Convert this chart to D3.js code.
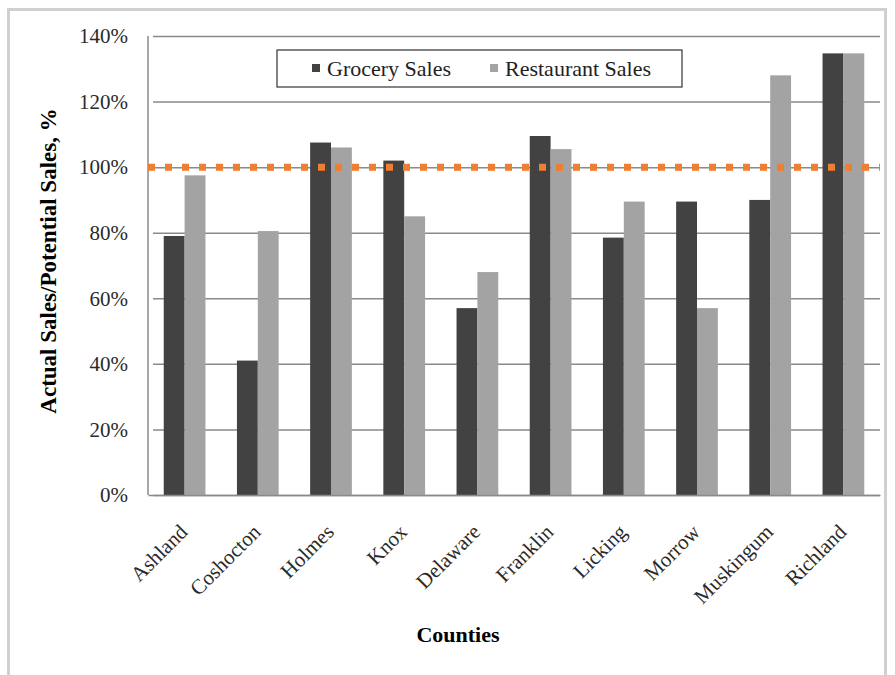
<!DOCTYPE html>
<html>
<head>
<meta charset="utf-8">
<script src="https://cdn.jsdelivr.net/npm/d3@7"></script>
<style>
  body { margin: 0; background: #fff; }
  svg text { font-family: "Liberation Serif", "Tinos", "DejaVu Serif", serif !important; }
</style>
</head>
<body>
<div class="chart"></div>
<script>
const counties = ["Ashland", "Coshocton", "Holmes", "Knox", "Delaware", "Franklin", "Licking", "Morrow", "Muskingum", "Richland"];
const grocery = [79, 41, 107.5, 102, 57, 109.5, 78.5, 89.5, 90, 134.7];
const restaurant = [97.5, 80.5, 106, 85, 68, 105.5, 89.5, 57, 128, 134.7];
const seriesNames = ["Grocery Sales", "Restaurant Sales"];
const yTicks = [0, 20, 40, 60, 80, 100, 120, 140];
const target = 100;

let dims = { width: 895, height: 675 };
let margin = { top: 36, right: 15, bottom: 180, left: 148 };

let svg = d3.select(".chart").append("svg")
  .attr("width", dims.width)
  .attr("height", dims.height);

// outer frame
svg.append("rect")
  .attr("x", 8.5).attr("y", 9.5)
  .attr("width", 877).attr("height", 680)
  .attr("fill", "none").attr("stroke", "#d0d0d0").attr("stroke-width", 3);

let x = d3.scaleBand().domain(counties)
  .range([margin.left, dims.width - margin.right])
  .paddingInner(0.43).paddingOuter(0.215);
let x1 = d3.scaleBand().domain(seriesNames).range([0, x.bandwidth()]);
let y = d3.scaleLinear().domain([0, 140]).range([dims.height - margin.bottom, margin.top]);
let color = d3.scaleOrdinal().domain(seriesNames).range(["#424242", "#a3a3a3"]);

// gridlines + y axis
let yAxis = svg.append("g")
  .attr("transform", `translate(${margin.left},0)`)
  .call(d3.axisLeft(y).tickValues(yTicks).tickFormat(d => d + "%")
    .tickSize(-(dims.width - margin.right - margin.left)).tickPadding(20));
yAxis.attr("font-family", null);
yAxis.select(".domain").remove();
yAxis.selectAll(".tick line").attr("stroke", "#8a8a8a").attr("stroke-width", 1.5).attr("x1", 5);
yAxis.selectAll(".tick text").style("font-size", "21px").attr("fill", "#2a2a2a");

svg.append("line")
  .attr("x1", margin.left).attr("x2", margin.left)
  .attr("y1", y(140)).attr("y2", y(0))
  .attr("stroke", "#8a8a8a").attr("stroke-width", 1.5);

// bars
let data = counties.map((c, i) => ({ county: c, values: [grocery[i], restaurant[i]] }));
let groups = svg.append("g").selectAll("g").data(data).join("g")
  .attr("transform", d => `translate(${x(d.county)},0)`);
groups.selectAll("rect")
  .data(d => d.values.map((v, j) => ({ key: seriesNames[j], v })))
  .join("rect")
  .attr("x", d => x1(d.key))
  .attr("width", x1.bandwidth())
  .attr("y", d => y(d.v))
  .attr("height", d => y(0) - y(d.v))
  .attr("fill", d => color(d.key));

// x axis
let xAxis = svg.append("g")
  .attr("transform", `translate(0,${y(0)})`)
  .call(d3.axisBottom(x).tickSize(0));
xAxis.attr("font-family", null);
xAxis.select(".domain").attr("stroke", "#8a8a8a").attr("stroke-width", 1.5);
xAxis.selectAll(".tick text")
  .style("font-size", "21px").attr("fill", "#2a2a2a")
  .attr("text-anchor", "end")
  .attr("x", 0).attr("y", 0)
  .attr("dy", "0.35em")
  .attr("transform", "translate(-1,33) rotate(-45)");

// 100% target dotted line
svg.append("line")
  .attr("x1", margin.left).attr("x2", dims.width - margin.right)
  .attr("y1", y(target)).attr("y2", y(target))
  .attr("stroke", "#ef7d32").attr("stroke-width", 7)
  .attr("stroke-dasharray", "7,10");

// axis titles
svg.append("text")
  .attr("transform", `translate(56,261) rotate(-90)`)
  .attr("text-anchor", "middle")
  .style("font-size", "23px").style("font-weight", "bold")
  .text("Actual Sales/Potential  Sales, %");

svg.append("text")
  .attr("x", 458).attr("y", 642)
  .attr("text-anchor", "middle")
  .style("font-size", "22px").style("font-weight", "bold")
  .text("Counties");

// legend
let legend = svg.append("g").attr("transform", "translate(277,50)");
legend.append("rect")
  .attr("width", 405).attr("height", 37)
  .attr("fill", "#fff").attr("stroke", "#333").attr("stroke-width", 1.2);
let items = legend.selectAll("g.item").data(seriesNames).join("g")
  .attr("class", "item")
  .attr("transform", (d, i) => `translate(${i === 0 ? 35 : 213},0)`);
items.append("rect")
  .attr("y", 14).attr("width", 8).attr("height", 8)
  .attr("fill", d => color(d));
items.append("text")
  .attr("x", 15).attr("y", 26)
  .style("font-size", "22px").attr("fill", "#222")
  .text(d => d);
</script>
</body>
</html>
